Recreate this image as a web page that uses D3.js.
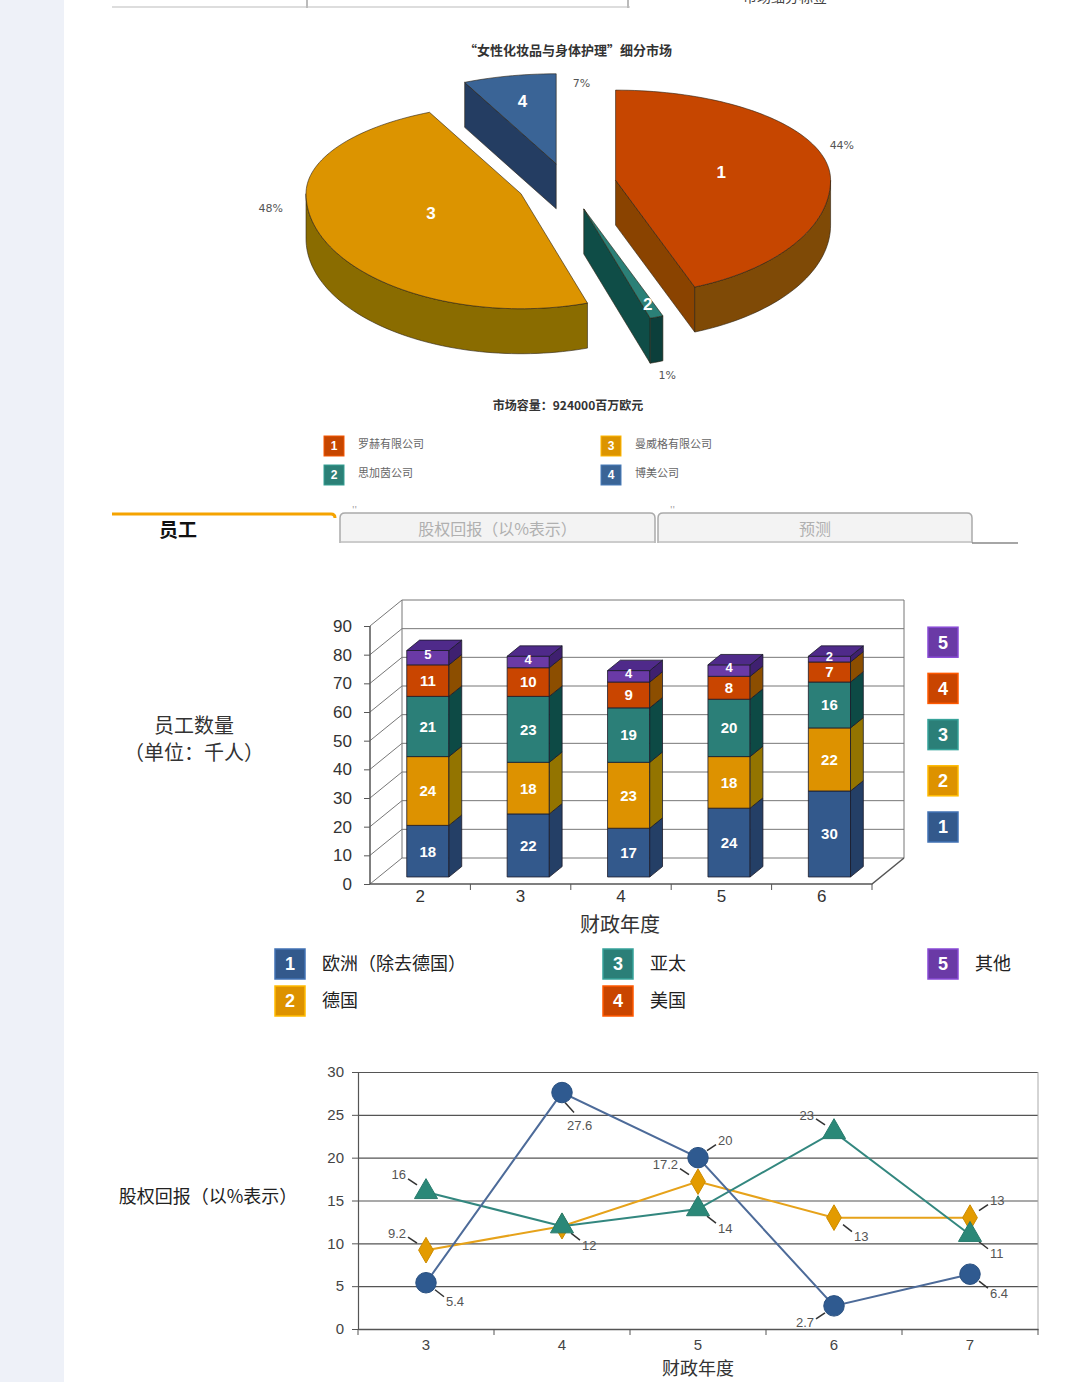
<!DOCTYPE html>
<html>
<head>
<meta charset="utf-8">
<script src="https://cdn.jsdelivr.net/npm/d3@7"></script>
<style>
body { margin: 0; background: #fff; }
svg { display: block; font-family: "Noto Sans CJK SC", "Liberation Sans", sans-serif; }
</style>
</head>
<body>
<script>
// ---- data ----
var pieTitle = "“女性化妆品与身体护理”细分市场";
var pieNote = "市场容量：924000百万欧元";
var pieNames = ["罗赫有限公司", "思加茵公司", "曼威格有限公司", "博美公司"];
var pieShare = [44, 1, 48, 7];

var tabNames = ["员工", "股权回报（以%表示）", "预测"];

var years = [2, 3, 4, 5, 6];
var regions = ["欧洲（除去德国）", "德国", "亚太", "美国", "其他"];
var staffEurope = [18, 22, 17, 24, 30];
var staffGermany = [24, 18, 23, 18, 22];
var staffAsia = [21, 23, 19, 20, 16];
var staffUSA = [11, 10, 9, 8, 7];
var staffOther = [5, 4, 4, 4, 2];
var staffTicks = [0, 10, 20, 30, 40, 50, 60, 70, 80, 90];

var roeYears = [3, 4, 5, 6, 7];
var roeBlue = [5.4, 27.6, 20, 2.7, 6.4];
var roeGold = [9.2, 12, 17.2, 13, 13];
var roeGreen = [16, 12, 14, 23, 11];
var roeTicks = [0, 5, 10, 15, 20, 25, 30];

var W = 1080, H = 1382;
var svg = d3.select("body").append("svg").attr("width", W).attr("height", H);

// page frame
svg.append("rect").attr("x", 0).attr("y", 0).attr("width", 64).attr("height", H).attr("fill", "#eef1f8");
svg.append("line").attr("x1", 112).attr("x2", 630).attr("y1", 7).attr("y2", 7).attr("stroke", "#ddd").attr("stroke-width", 2);
[307, 628].forEach(function (x) {
  svg.append("line").attr("x1", x).attr("x2", x).attr("y1", 0).attr("y2", 8).attr("stroke", "#bbb").attr("stroke-width", 2);
});
svg.append("text").attr("x", 785).attr("y", 2).attr("text-anchor", "middle").attr("font-size", 14).attr("fill", "#444").text("市场细分标签");

// ---- 3D pie ----
var P = {cx: 567, cy: 184, rx: 215, ryB: 90, ryF: 115, dep: 45, ex: 0.23};
var pieTop = ["#c64600", "#2b8077", "#dc9400", "#3a6496"];
var pieSide = ["#7f4a06", "#0c3f3b", "#8a6c00", "#22395c"];
var pieRad = ["#8a4300", "#0f4d47", "#7a5e00", "#243d62"];
var pctAt = [[70, 1.12], [165, 1.5], [264, 1.17], [7.5, 0.9]];
var numR = [0.5, 0.88, 0.45, 0.72];

function pt(c, a, r, z) {
  var cs = Math.cos(a);
  return [c[0] + r * P.rx * Math.sin(a), c[1] - r * (cs > 0 ? P.ryB : P.ryF) * cs + (z || 0)];
}
function arcPts(c, a0, a1, z) {
  var n = Math.max(2, Math.ceil((a1 - a0) / 0.03)), out = [];
  for (var k = 0; k <= n; k++) out.push(pt(c, a0 + (a1 - a0) * k / n, 1, z));
  return out;
}
var line = d3.line();
var arcs = d3.pie().sort(null).value(function (d) { return d; })(pieShare);
arcs.forEach(function (d, i) {
  var m = (d.startAngle + d.endAngle) / 2;
  d.mid = m;
  d.tip = pt([P.cx, P.cy], m, P.ex);
});

var pieG = svg.append("g");
[3, 0, 2, 1].forEach(function (i) {
  var d = arcs[i], c = d.tip, a0 = d.startAngle, a1 = d.endAngle;
  var g = pieG.append("g");
  // radial faces
  [[a0, a0 - Math.PI / 2], [a1, a1 + Math.PI / 2]].forEach(function (f) {
    if (Math.cos(f[1]) < -0.01) {
      var p = pt(c, f[0], 1);
      g.append("path").attr("d", line([c, p, [p[0], p[1] + P.dep], [c[0], c[1] + P.dep]]) + "Z")
        .attr("fill", pieRad[i]).attr("stroke", "#2a2010").attr("stroke-width", 0.6);
    }
  });
  // outer face (front half only)
  var s0 = Math.max(a0, Math.PI / 2), s1 = Math.min(a1, Math.PI * 1.5);
  if (s1 > s0) {
    var topA = arcPts(c, s0, s1, 0), botA = arcPts(c, s0, s1, P.dep).reverse();
    g.append("path").attr("d", line(topA.concat(botA)) + "Z")
      .attr("fill", pieSide[i]).attr("stroke", "#2a2010").attr("stroke-width", 0.6);
  }
  // top face
  g.append("path").attr("d", line([c].concat(arcPts(c, a0, a1, 0))) + "Z")
    .attr("fill", pieTop[i]).attr("stroke", "#2a2010").attr("stroke-width", 0.6);
});
arcs.forEach(function (d, i) {
  var p = pt(d.tip, d.mid, numR[i]);
  pieG.append("text").attr("x", p[0]).attr("y", p[1]).attr("dy", "0.35em").attr("text-anchor", "middle")
    .attr("font-family", "Liberation Sans").attr("font-weight", "bold").attr("font-size", 17).attr("fill", "#fff")
    .text(i + 1);
  var q = pt(d.tip, pctAt[i][0] * Math.PI / 180, pctAt[i][1]);
  pieG.append("text").attr("x", q[0]).attr("y", q[1]).attr("dy", "0.35em").attr("text-anchor", "middle")
    .attr("font-family", "DejaVu Sans").attr("font-size", 11).attr("fill", "#555")
    .text(d.data + "%");
});
svg.append("text").attr("x", 568).attr("y", 55).attr("text-anchor", "middle").attr("font-size", 13)
  .attr("font-weight", "bold").attr("fill", "#333").text(pieTitle);
svg.append("text").attr("x", 568).attr("y", 410).attr("text-anchor", "middle").attr("font-size", 12)
  .attr("font-weight", "bold").attr("fill", "#333").text(pieNote);

var pieLeg = svg.append("g");
pieNames.forEach(function (n, i) {
  var cx = [334, 611][Math.floor(i / 2)], cy = [446, 475][i % 2];
  pieLeg.append("rect").attr("x", cx - 10).attr("y", cy - 10).attr("width", 20).attr("height", 20)
    .attr("fill", pieTop[i]).attr("stroke", d3.color(pieTop[i]).brighter(0.6)).attr("stroke-width", 1);
  pieLeg.append("text").attr("x", cx).attr("y", cy).attr("dy", "0.35em").attr("text-anchor", "middle")
    .attr("font-family", "Liberation Sans").attr("font-weight", "bold").attr("font-size", 12).attr("fill", "#fff").text(i + 1);
  pieLeg.append("text").attr("x", cx + 24).attr("y", cy - 2).attr("dy", "0.35em")
    .attr("font-size", 11).attr("fill", "#666").text(n);
});

// ---- tabs ----
var tabs = svg.append("g");
var tabX = [[112, 335], [340, 655], [658, 972]];
tabX.forEach(function (t, i) {
  if (i === 0) {
    tabs.append("path").attr("d", "M" + t[0] + ",514 L" + (t[1] - 4) + ",514 Q" + t[1] + ",514 " + t[1] + ",518")
      .attr("fill", "none").attr("stroke", "#f5a300").attr("stroke-width", 3);
    tabs.append("text").attr("x", 178).attr("y", 530).attr("dy", "0.35em").attr("text-anchor", "middle")
      .attr("font-size", 19).attr("font-weight", "bold").attr("fill", "#111").text(tabNames[i]);
  } else {
    tabs.append("path").attr("d", "M" + t[0] + ",543 L" + t[0] + ",518 Q" + t[0] + ",513 " + (t[0] + 5) + ",513 L" +
      (t[1] - 5) + ",513 Q" + t[1] + ",513 " + t[1] + ",518 L" + t[1] + ",543")
      .attr("fill", "#f3f3f3").attr("stroke", "#aaa").attr("stroke-width", 1.5);
    tabs.append("line").attr("x1", t[0] + 1).attr("x2", t[1] - 1).attr("y1", 542).attr("y2", 542).attr("stroke", "#ccc").attr("stroke-width", 2);
    tabs.append("text").attr("x", (t[0] + t[1]) / 2).attr("y", 529).attr("dy", "0.35em").attr("text-anchor", "middle")
      .attr("font-size", 16).attr("fill", "#b0b0b0").text(tabNames[i]);
    tabs.append("text").attr("x", t[0] + 12).attr("y", 513).attr("font-size", 9).attr("fill", "#999").text("''");
  }
});
tabs.append("line").attr("x1", 972).attr("x2", 1018).attr("y1", 543).attr("y2", 543).attr("stroke", "#888").attr("stroke-width", 1.5);

// ---- 3D stacked bars ----
var B = {x0: 370, x1: 872, dx: 32, dy: -26, f0: 0.27, f1: 0.4};
var by = d3.scaleLinear().domain([0, 90]).range([884, 626]);
var bx = d3.scaleBand().domain(years).range([B.x0, B.x1]);
var bw = bx.bandwidth();
var staffSeries = [staffEurope, staffGermany, staffAsia, staffUSA, staffOther];
var barCol = ["#33598c", "#dd9200", "#2b7f78", "#c94500", "#6a3aa6"];
var barSide = ["#243f66", "#937400", "#0d4a45", "#8c4e00", "#3f2070"];
var barTopC = ["#2c4e7c", "#c98400", "#236e68", "#b03c00", "#4f2a8a"];

var grid = svg.append("g").attr("stroke", "#777").attr("stroke-width", 1).attr("fill", "none");
staffTicks.forEach(function (v) {
  var y = by(v);
  grid.append("path").attr("d", line([[B.x0, y], [B.x0 + B.dx, y + B.dy], [B.x1 + B.dx, y + B.dy]]));
});
grid.append("line").attr("x1", B.x0 + B.dx).attr("x2", B.x0 + B.dx).attr("y1", by(0) + B.dy).attr("y2", by(90) + B.dy);
grid.append("line").attr("x1", B.x1 + B.dx).attr("x2", B.x1 + B.dx).attr("y1", by(0) + B.dy).attr("y2", by(90) + B.dy);
grid.append("path").attr("d", line([[B.x0, by(0)], [B.x1, by(0)], [B.x1 + B.dx, by(0) + B.dy]])).attr("stroke", "#555").attr("stroke-width", 1.5);
grid.append("line").attr("x1", B.x0).attr("x2", B.x0).attr("y1", by(0)).attr("y2", by(90)).attr("stroke", "#555").attr("stroke-width", 1.5);
years.forEach(function (yr) {
  var x = bx(yr) + bw;
  grid.append("line").attr("x1", x).attr("x2", x).attr("y1", by(0)).attr("y2", by(0) + 6).attr("stroke", "#555");
});

var yAx = svg.append("g").attr("transform", "translate(" + B.x0 + ",0)")
  .call(d3.axisLeft(by).tickValues(staffTicks).tickSize(6).tickPadding(12));
yAx.select(".domain").remove();
yAx.selectAll("line").attr("stroke", "#555");
yAx.selectAll("text").attr("font-family", "Liberation Sans").attr("font-size", 17).attr("fill", "#333");

var xAx = svg.append("g").attr("transform", "translate(0," + by(0) + ")")
  .call(d3.axisBottom(bx).tickSize(0).tickPadding(6));
xAx.select(".domain").remove();
xAx.selectAll("text").attr("font-family", "Liberation Sans").attr("font-size", 17).attr("fill", "#333");

var bars = svg.append("g").attr("stroke", "#1a1a2a").attr("stroke-width", 0.8).attr("stroke-linejoin", "round");
years.forEach(function (yr, j) {
  var xl = bx(yr) + bw * 0.28 + B.f0 * B.dx, xr = xl + bw * 0.42;
  var ox = B.f1 * B.dx, oy = B.f1 * B.dy, sh = B.f0 * B.dy;
  var cum = 0;
  staffSeries.forEach(function (s, k) {
    var v = s[j];
    var yb = by(cum) + sh, yt = by(cum + v) + sh;
    var last = k === staffSeries.length - 1;
    bars.append("rect").attr("x", xl).attr("y", yt).attr("width", xr - xl).attr("height", yb - yt).attr("fill", barCol[k]);
    bars.append("path").attr("d", line([[xr, yt], [xr + ox, yt + oy], [xr + ox, yb + oy], [xr, yb]]) + "Z").attr("fill", barSide[k]);
    if (last) {
      bars.append("path").attr("d", line([[xl, yt], [xl + ox, yt + oy], [xr + ox, yt + oy], [xr, yt]]) + "Z").attr("fill", barTopC[k]);
    }
    var ly0 = last ? (yt + oy * 0.6 + yb) / 2 : (yt + yb) / 2;
    bars.append("text").attr("x", (xl + xr) / 2).attr("y", ly0).attr("dy", "0.36em")
      .attr("text-anchor", "middle").attr("stroke", "none").attr("font-family", "Liberation Sans")
      .attr("font-weight", "bold").attr("font-size", last ? 13 : 15).attr("fill", "#fff").text(v);
    cum += v;
  });
});

svg.append("text").attr("x", 194).attr("y", 726).attr("dy", "0.35em").attr("text-anchor", "middle")
  .attr("font-size", 20).attr("fill", "#333").text("员工数量");
svg.append("text").attr("x", 194).attr("y", 753).attr("dy", "0.35em").attr("text-anchor", "middle")
  .attr("font-size", 20).attr("fill", "#333").text("（单位：千人）");
svg.append("text").attr("x", 620).attr("y", 925).attr("dy", "0.35em").attr("text-anchor", "middle")
  .attr("font-size", 20).attr("fill", "#333").text("财政年度");

// right-hand legend (numbers only)
var rLeg = svg.append("g");
regions.forEach(function (r, k) {
  var cy = 827 - k * 46.2;
  rLeg.append("rect").attr("x", 928).attr("y", cy - 15).attr("width", 30).attr("height", 30)
    .attr("fill", barCol[k]).attr("stroke", d3.color(barCol[k]).brighter(0.7)).attr("stroke-width", 1.5);
  rLeg.append("text").attr("x", 943).attr("y", cy).attr("dy", "0.36em").attr("text-anchor", "middle")
    .attr("font-family", "Liberation Sans").attr("font-weight", "bold").attr("font-size", 18).attr("fill", "#fff").text(k + 1);
});

// bottom legend
var bLeg = svg.append("g");
regions.forEach(function (r, k) {
  var cx = [290, 618, 943][Math.floor(k / 2)], cy = [964, 1001][k % 2];
  bLeg.append("rect").attr("x", cx - 15).attr("y", cy - 15).attr("width", 30).attr("height", 30)
    .attr("fill", barCol[k]).attr("stroke", d3.color(barCol[k]).brighter(0.7)).attr("stroke-width", 1.5);
  bLeg.append("text").attr("x", cx).attr("y", cy).attr("dy", "0.36em").attr("text-anchor", "middle")
    .attr("font-family", "Liberation Sans").attr("font-weight", "bold").attr("font-size", 18).attr("fill", "#fff").text(k + 1);
  bLeg.append("text").attr("x", cx + 32).attr("y", cy).attr("dy", "0.35em")
    .attr("font-size", 18).attr("fill", "#222").text(r);
});

// ---- line chart ----
var L = {x0: 358, x1: 1038, y0: 1329, y1: 1072};
var ly = d3.scaleLinear().domain([0, 30]).range([L.y0, L.y1]);
var lx = d3.scaleBand().domain(roeYears).range([L.x0, L.x1]);
var lbw = lx.bandwidth();
var cxOf = function (yr) { return lx(yr) + lbw / 2; };

var lg = svg.append("g").attr("transform", "translate(" + L.x0 + ",0)")
  .call(d3.axisLeft(ly).tickValues(roeTicks).tickSize(-(L.x1 - L.x0)).tickFormat(""));
lg.select(".domain").remove();
lg.selectAll("line").attr("stroke", "#555").attr("stroke-width", 1.2);
svg.append("line").attr("x1", L.x1).attr("x2", L.x1).attr("y1", L.y1).attr("y2", L.y0).attr("stroke", "#aaa");

var lyAx = svg.append("g").attr("transform", "translate(" + L.x0 + ",0)")
  .call(d3.axisLeft(ly).tickValues(roeTicks).tickSize(6).tickPadding(8));
lyAx.select(".domain").attr("stroke", "#555").attr("stroke-width", 1.2);
lyAx.selectAll("line").attr("stroke", "#555");
lyAx.selectAll("text").attr("font-family", "Liberation Sans").attr("font-size", 15).attr("fill", "#444");

var lxAx = svg.append("g").attr("transform", "translate(0," + L.y0 + ")")
  .call(d3.axisBottom(lx).tickSize(0).tickPadding(10));
lxAx.select(".domain").attr("stroke", "#555").attr("stroke-width", 1.5);
lxAx.selectAll("text").attr("font-family", "Liberation Sans").attr("font-size", 15).attr("fill", "#444");
[L.x0].concat(roeYears.map(function (yr) { return lx(yr) + lbw; })).forEach(function (x) {
  svg.append("line").attr("x1", x).attr("x2", x).attr("y1", L.y0).attr("y2", L.y0 + 6).attr("stroke", "#555");
});

svg.append("text").attr("x", 208).attr("y", 1197).attr("dy", "0.35em").attr("text-anchor", "middle")
  .attr("font-size", 18).attr("fill", "#222").text("股权回报（以%表示）");
svg.append("text").attr("x", 698).attr("y", 1369).attr("dy", "0.35em").attr("text-anchor", "middle")
  .attr("font-size", 18).attr("fill", "#333").text("财政年度");

// label placement per point (null = hidden): leader start, leader end, text anchor point
var off = {
  tl: {a: [-9, -7], b: [-18, -13], t: [-20, -17]},
  tr: {a: [9, -7], b: [18, -13], t: [20, -17]},
  bl: {a: [-9, 7], b: [-18, 13], t: [-20, 17]},
  br: {a: [9, 7], b: [18, 14], t: [20, 19]},
  bb: {a: [3, 10], b: [12, 20], t: [5, 33]}
};
var roeSeries = [
  {v: roeGold, line: "#e6a21a", fill: "#e39b00", sym: d3.symbolDiamond, size: 190, dir: ["tl", null, "tl", "br", "tr"]},
  {v: roeGreen, line: "#33877f", fill: "#2b8878", sym: d3.symbolTriangle, size: 230, dir: ["tl", "br", "br", "tl", "br"]},
  {v: roeBlue, line: "#4d6b99", fill: "#2f5a90", sym: d3.symbolCircle, size: 330, dir: ["br", "bb", "tr", "bl", "br"]}
];
var lineGen = d3.line().x(function (d, i) { return cxOf(roeYears[i]); }).y(function (d) { return ly(d); });
roeSeries.forEach(function (s) {
  svg.append("path").attr("d", lineGen(s.v)).attr("fill", "none").attr("stroke", s.line).attr("stroke-width", 2);
});
roeSeries.forEach(function (s) {
  s.v.forEach(function (v, i) {
    var x = cxOf(roeYears[i]), y = ly(v);
    var o = off[s.dir[i]];
    if (o) {
      svg.append("line").attr("x1", x + o.a[0]).attr("y1", y + o.a[1]).attr("x2", x + o.b[0]).attr("y2", y + o.b[1])
        .attr("stroke", "#333").attr("stroke-width", 1.5);
      svg.append("text").attr("x", x + o.t[0]).attr("y", y + o.t[1]).attr("dy", "0.35em")
        .attr("text-anchor", o.t[0] < 0 ? "end" : "start").attr("font-family", "Liberation Sans")
        .attr("font-size", 13).attr("fill", "#555").text(v);
    }
  });
});
roeSeries.forEach(function (s) {
  s.v.forEach(function (v, i) {
    svg.append("path").attr("d", d3.symbol().type(s.sym).size(s.size)())
      .attr("transform", "translate(" + cxOf(roeYears[i]) + "," + ly(v) + ")")
      .attr("fill", s.fill).attr("stroke", d3.color(s.fill).darker(0.3)).attr("stroke-width", 1);
  });
});
</script>
</body>
</html>
